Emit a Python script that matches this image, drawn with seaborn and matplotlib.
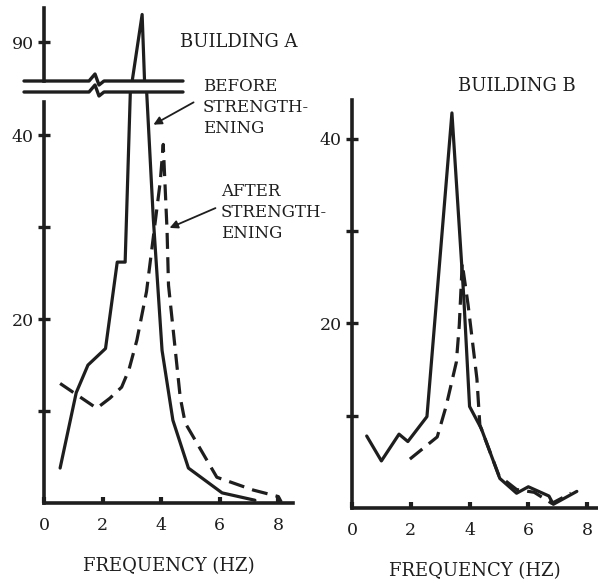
import matplotlib
matplotlib.use("Agg")
import matplotlib.pyplot as plt
from matplotlib.lines import Line2D
import seaborn as sns

# Building A: response vs frequency (Hz)
a_before_hz = [0.55, 1.1, 1.5, 2.1, 2.5, 2.77, 2.95, 3.02, 3.35, 3.43, 3.5, 3.73, 4.03, 4.4, 4.93, 6.08, 7.2]
a_before = [3.8, 12, 15, 16.8, 26.2, 26.2, 45, 86, 93, 86, 45, 31, 16.6, 9, 3.8, 1.1, 0.3]
a_after_hz = [0.55, 1.8, 2.25, 2.65, 2.9, 3.17, 3.5, 3.97, 4.07, 4.2, 4.25, 4.65, 4.82, 5.9, 7.15, 8.0, 8.1]
a_after = [13, 10.3, 11.4, 12.6, 14.5, 17.7, 23, 35, 39, 29.7, 23.7, 11.5, 8.7, 2.8, 1.4, 0.7, 0.1]

# Building B
b_before_hz = [0.5, 1.0, 1.6, 1.9, 2.55, 3.4, 3.8, 4.0, 4.4, 5.03, 5.6, 6.0, 6.7, 6.85, 7.65]
b_before = [7.8, 5.1, 8.0, 7.2, 9.9, 42.8, 23, 11, 8.6, 3.2, 1.6, 2.3, 1.3, 0.4, 1.8]
b_after_hz = [1.97, 2.9, 3.2, 3.55, 3.65, 3.75, 3.95, 4.1, 4.25, 4.35, 5.0, 5.6, 6.2, 6.8, 7.45]
b_after = [5.3, 7.7, 11, 15.8, 19.8, 26.5, 22, 18, 14, 9, 3.5, 2.0, 1.7, 0.5, 1.6]

freq_ticks = [0, 2, 4, 6, 8]
low_ticks = [10, 20, 30, 40]
low_labels = ["", "20", "", "40"]

sns.set_style("white")
plt.rcParams["font.family"] = ["DejaVu Serif"]
ink = "#1e1e1e"

W, H = 598, 585
fig = plt.figure(figsize=(W / 100, H / 100), dpi=100)


def box(left, top, right, bottom):
    return [left / W, 1 - bottom / H, (right - left) / W, (bottom - top) / H]


def fp(x, y):
    return (x / W, 1 - y / H)


def style_axis(ax):
    sns.despine(ax=ax)
    for s in ["left", "bottom"]:
        ax.spines[s].set_linewidth(2.6)
        ax.spines[s].set_color(ink)
    ax.tick_params(axis="y", left=True, direction="inout", length=9, width=2.4,
                   color=ink, labelsize=12.5, labelcolor=ink, pad=3)
    ax.tick_params(axis="x", bottom=True, direction="in", length=4, width=3,
                   color=ink, labelsize=12.5, labelcolor=ink, pad=10)
    ax.set_facecolor("none")


solid = dict(color=ink, lw=2.3, sort=False, estimator=None)
dashed = dict(color=ink, lw=2.3, sort=False, estimator=None, linestyle=(0, (5, 2.6)))

# ---- Building A, lower part
axA = fig.add_axes(box(44, 92, 293, 503))
sns.lineplot(x=a_before_hz, y=a_before, ax=axA, **solid)
sns.lineplot(x=a_after_hz, y=a_after, ax=axA, **dashed)
axA.set_xlim(0, 8.5)
axA.set_ylim(0, 44.7)
style_axis(axA)
axA.spines["left"].set_bounds(0, 43.6)
axA.set_yticks(low_ticks)
axA.set_yticklabels(low_labels)
axA.set_xticks(freq_ticks)
axA.set_xlabel("FREQUENCY (HZ)", fontsize=13, color=ink, labelpad=17)

# ---- Building A, upper part above the axis break
axAu = fig.add_axes(box(44, 8, 293, 81))
sns.lineplot(x=a_before_hz, y=a_before, ax=axAu, **solid)
axAu.set_xlim(0, 8.5)
axAu.set_ylim(85.8, 93.7)
style_axis(axAu)
axAu.spines["bottom"].set_visible(False)
axAu.set_xticks([])
axAu.set_yticks([90])

# break marks
for yb in (81, 92):
    xs = [24, 89, 95, 99, 104, 183]
    ys = [yb, yb, yb - 7, yb + 4, yb, yb]
    fig.add_artist(Line2D([x / W for x in xs], [1 - y / H for y in ys],
                          color=ink, lw=2.4))

fig.text(*fp(180, 42), "BUILDING A", fontsize=13, color=ink, va="center")
fig.text(*fp(203, 78), "BEFORE\nSTRENGTH-\nENING", fontsize=12, color=ink,
         va="top", linespacing=1.3)
fig.text(*fp(221, 183), "AFTER\nSTRENGTH-\nENING", fontsize=12, color=ink,
         va="top", linespacing=1.3)
arrow = dict(arrowstyle="-|>", color=ink, lw=1.3, mutation_scale=12)
axA.annotate("", xy=fp(151, 126), xycoords="figure fraction",
             xytext=fp(196, 101), textcoords="figure fraction", arrowprops=arrow)
axA.annotate("", xy=fp(167, 229), xycoords="figure fraction",
             xytext=fp(218, 207), textcoords="figure fraction", arrowprops=arrow)

# ---- Building B
axB = fig.add_axes(box(352, 100, 598, 508))
sns.lineplot(x=b_before_hz, y=b_before, ax=axB, **solid)
sns.lineplot(x=b_after_hz, y=b_after, ax=axB, **dashed)
axB.set_xlim(0, 8.37)
axB.set_ylim(0, 44.2)
style_axis(axB)
axB.set_yticks(low_ticks)
axB.set_yticklabels(low_labels)
axB.set_xticks(freq_ticks)
axB.set_xlabel("FREQUENCY (HZ)", fontsize=13, color=ink, labelpad=17)

fig.text(*fp(458, 86), "BUILDING B", fontsize=13, color=ink, va="center")

fig.savefig("out.png", dpi=100, facecolor="white")
